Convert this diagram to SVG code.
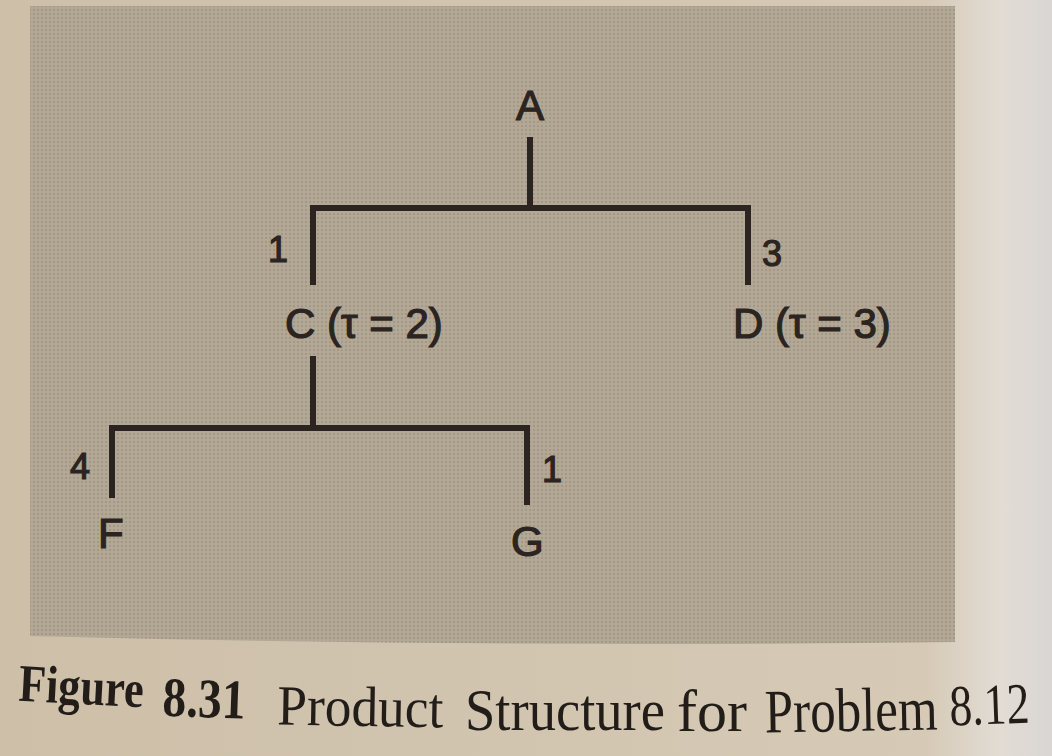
<svg xmlns="http://www.w3.org/2000/svg" width="1052" height="756" viewBox="0 0 1052 756">
<defs>
<linearGradient id="page" x1="0" y1="0" x2="1" y2="0">
<stop offset="0" stop-color="#cdbfa8"/>
<stop offset="0.88" stop-color="#d6cab6"/>
<stop offset="0.95" stop-color="#e2dcd4"/>
<stop offset="1" stop-color="#d9d6d3"/>
</linearGradient>
<pattern id="dots" width="4" height="4" patternUnits="userSpaceOnUse">
<rect width="4" height="4" fill="#b3a895"/>
<circle cx="2" cy="2" r="0.9" fill="#9c917f"/>
</pattern>
<style>
.lbl{font-family:"Liberation Sans",Arial,sans-serif;font-size:42px;fill:#2b2420;stroke:#2b2420;stroke-width:1.2}
.num{font-family:"Liberation Sans",Arial,sans-serif;font-size:36px;fill:#2b2420;stroke:#2b2420;stroke-width:1.2}
.edge{stroke:#2b2420;stroke-width:6;fill:none;stroke-linecap:butt}
.cap{font-family:"Liberation Serif","Times New Roman",serif;fill:#231d1a}
.b{font-weight:bold}
</style>
</defs>
<rect width="1052" height="756" fill="url(#page)"/>
<path d="M30 6 L955 6 L955 642 Q500 648 30 636 Z" fill="url(#dots)"/>
<g id="connectors">
<path class="edge" d="M530 137 V208"/>
<path class="edge" d="M313 285 V208 H748 V285"/>
<path class="edge" d="M313 356 V428"/>
<path class="edge" d="M112 498 V428 H527 V505"/>
</g>
<g id="node-A"><text class="lbl" x="530" y="120" text-anchor="middle">A</text></g>
<g id="node-C"><text class="lbl" x="285" y="338">C (τ = 2)</text></g>
<g id="node-D"><text class="lbl" x="733" y="338">D (τ = 3)</text></g>
<g id="node-F"><text class="lbl" x="98" y="548">F</text></g>
<g id="node-G"><text class="lbl" x="511" y="556">G</text></g>
<g id="quantities">
<text class="num" x="268" y="262">1</text>
<text class="num" x="762" y="266">3</text>
<text class="num" x="70" y="479">4</text>
<text class="num" x="542" y="482">1</text>
</g>
<g id="caption">
<text class="cap b" x="18" y="704" font-size="53" textLength="125" lengthAdjust="spacingAndGlyphs" transform="rotate(3 80 704)">Figure</text>
<text class="cap b" x="162" y="717" font-size="56" textLength="83" lengthAdjust="spacingAndGlyphs" transform="rotate(2 200 717)">8.31</text>
<text class="cap" x="277" y="726" font-size="57" textLength="166" lengthAdjust="spacingAndGlyphs" transform="rotate(1 360 726)">Product</text>
<text class="cap" x="465" y="730" font-size="59" textLength="200" lengthAdjust="spacingAndGlyphs">Structure</text>
<text class="cap" x="677" y="731" font-size="60" textLength="70" lengthAdjust="spacingAndGlyphs">for</text>
<text class="cap" x="765" y="731" font-size="62" textLength="173" lengthAdjust="spacingAndGlyphs" transform="rotate(-1 850 731)">Problem</text>
<text class="cap" x="950" y="724" font-size="58" textLength="80" lengthAdjust="spacingAndGlyphs" transform="rotate(-2 990 724)">8.12</text>
</g>
</svg>
